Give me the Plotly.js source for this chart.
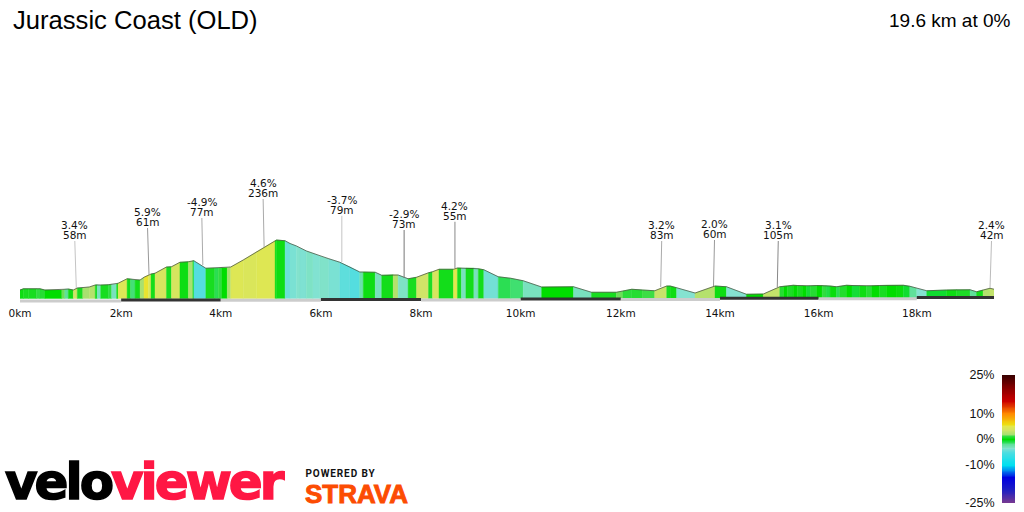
<!DOCTYPE html>
<html><head><meta charset="utf-8">
<script src="https://cdn.plot.ly/plotly-3.0.1.min.js"></script>
<style>
html,body{margin:0;padding:0;background:#fff}
#c{width:1024px;height:512px}
.annotation[data-index="23"] text{stroke:#000;stroke-width:1.5px;letter-spacing:-3px}
.annotation[data-index="24"] text{stroke:#ff1744;stroke-width:1.5px;letter-spacing:-3px}
.annotation[data-index="25"] text{letter-spacing:.9px}
.annotation[data-index="26"] text{stroke:#fc4c02;stroke-width:.9px}
</style></head><body><div id="c"></div>
<script>
const chartTitle = "Jurassic Coast (OLD)";
const summary = "19.6 km at 0%";
const kmPts = [0,.07,.17,.33,.40,.50,.84,.90,.97,1.07,1.15,1.26,1.39,1.51,1.55,1.62,1.77,1.84,1.94,1.97,2.15,2.22,2.31,2.41,2.49,2.58,2.63,2.71,2.94,3.04,3.21,3.38,3.47,3.49,3.73,3.91,3.98,4.05,4.16,4.23,4.48,4.75,5.12,5.15,5.32,5.42,5.55,5.62,5.75,5.88,6.02,6.2,6.42,6.62,6.82,6.89,7.13,7.26,7.49,7.59,7.79,7.96,8.2,8.28,8.41,8.70,8.78,8.86,8.95,9.11,9.2,9.31,9.6,9.85,10.1,10.47,11.11,11.47,11.97,12.1,12.28,12.5,12.74,12.98,13.05,13.18,13.55,13.95,14.18,14.58,14.92,15.25,15.33,15.4,15.52,15.6,15.7,15.79,15.86,15.99,16.1,16.18,16.26,16.39,16.45,16.59,16.7,16.85,16.99,17.1,17.25,17.39,17.6,17.73,17.86,18,18.2,18.6,18.8,19.07,19.2,19.33,19.47,19.55];
const elevPts = [3.2,3.7,3.7,3.7,3.7,3.2,3.2,3.5,3.6,3.2,4.0,4.1,4.4,5.2,5.3,5.2,5.3,5.5,5.6,5.9,7.7,7.6,7.2,7.2,8.3,9.2,9.6,9.9,12.4,12.5,14.3,14.5,14.9,14.9,11.9,12,12,12.1,12.1,12.4,15.2,18.5,22.9,23.2,22.9,21.8,20.8,20,18.8,17.9,16.8,15.7,14.3,12.5,10.4,10.4,10.3,9.1,9.3,9.2,7.7,8.3,10.1,10.5,11.5,11.5,12,12,12,12,11.7,11.3,8.5,7.9,6.9,4.4,4.5,2.3,2.3,2.8,3.5,3.2,2.9,4.8,4.8,4.1,2.0,4.8,4.5,1.5,1.6,4.5,4.7,4.8,5.1,5,4.9,4.8,4.9,5,5,4.9,4.8,4.5,4.7,5.1,5,4.9,4.8,4.9,5,5.1,5.1,5.1,4.7,3.9,2.9,3.2,3.3,3.3,2.5,3.2,3.9,3.5];
const gradPts = [.3,.5,.5,1,.8,0,1.5,-2,.3,3.5,.5,2,2.5,.4,-3,.5,1,-3,.3,4.5,.4,-1.5,.4,2,5.5,4,.4,4,.5,4,.3,2,.3,-4.9,.5,-1,1,0,2,4.6,4.3,4.7,.3,.3,-4.2,-3.8,-3.4,-3.7,-3.2,-3.6,-3.3,-3.8,-4.6,-4.9,-2.5,.3,-3,.4,2.5,-3.2,.5,3.5,.6,4,.4,5,.5,-3,.4,-3,.4,-4,-1,-1.4,-3,0,-3,.5,1.5,.9,.8,1.1,3.2,.5,.3,-3.5,2.5,.3,-3.5,0,3,.8,0,.6,0,.5,0,-.6,.8,0,1,-.8,.2,-1,.7,0,-.6,.3,.8,0,.5,0,.2,-.5,-2,-3.5,-.5,.3,.6,-2,.4,2.4,3,0];
const tickPos = [0,2.03,4.03,6.04,8.05,10.05,12.06,14.05,16.03,18.0];
const tickLabels = ["0km","2km","4km","6km","8km","10km","12km","14km","16km","18km"];
const bandKm = [0,2.03,4.03,6.04,8.05,10.05,12.06,14.05,16.03,18.0,19.55];
const bandElev = [-1.2,-.8,-.9,-.6,-.8,-.4,-.6,-.1,-.3,.2,.2];
const climbGrade = ["3.4%","5.9%","-4.9%","4.6%","-3.7%","-2.9%","4.2%","3.2%","2.0%","3.1%","2.4%"];
const climbLength = ["58m","61m","77m","236m","79m","73m","55m","83m","60m","105m","42m"];
const labelKm = [1.10,2.56,3.65,4.88,6.46,7.71,8.73,12.88,13.94,15.22,19.50];
const leaderKmBase = [1.13,2.59,3.67,4.90,6.46,7.71,8.73,12.86,13.92,15.20,19.47];
const leaderTop = [22.8,28,32,39.6,32.9,27.2,30.5,22.8,23.2,22.8,22.8];
const leaderBase = [4,9.2,13.2,20.4,14.4,8,12,4.4,4.8,4.4,4];
const leaderColor = ["#c4c4c4","#999","#aaa","#aaa","#c4c4c4","#777","#888","#aaa","#999","#888","#bbb"];
const gradeStops = [-25,-20,-15,-12,-10,-5,-3.5,-2,-.5,0,1,2,3.5,5,6,10,15,20,25];
const gradeColors = ["#7a3a90","#2020c0","#0000e0","#0090f0","#00e0f0","#50dde0","#85e2d0","#60e09a","#10dd30","#00dd00","#30dd40","#a8e070","#d0e468","#e2e84e","#eedd10","#ff8800","#cc0000","#880000","#3a0000"];
const legendLevels = [-25,-24,-23,-22,-21,-20,-19,-18,-17,-16,-15,-14,-13,-12,-11,-10,-9,-8,-7,-6,-5,-4,-3,-2,-1,0,1,2,3,4,5,6,7,8,9,10,11,12,13,14,15,16,17,18,19,20,21,22,23,24,25];
const legendTicks = [-25,-10,0,10,25];
const legendTickText = ["-25%","-10%","0%","10%","25%"];

function hex(c){return [1,3,5].map(i=>parseInt(c.substr(i,2),16));}
function colorFor(g){
  let i=0; while(i<gradeStops.length-2 && g>gradeStops[i+1]) i++;
  const t=Math.max(0,Math.min(1,(g-gradeStops[i])/(gradeStops[i+1]-gradeStops[i])));
  const a=hex(gradeColors[i]),b=hex(gradeColors[i+1]);
  return 'rgb('+a.map((v,k)=>Math.round(v+(b[k]-v)*t)).join(',')+')';
}
const floorElev = -.2, traces = [];
for(let i=0;i<kmPts.length-1;i++){
  const col=colorFor(gradPts[i]);
  traces.push({type:'scatter',mode:'lines',x:[kmPts[i],kmPts[i],kmPts[i+1],kmPts[i+1],kmPts[i]],
    y:[floorElev,elevPts[i],elevPts[i+1],floorElev,floorElev],fill:'toself',fillcolor:col,
    line:{color:col,width:.4},hoverinfo:'skip',showlegend:false});
}
traces.push({type:'scatter',mode:'lines',x:kmPts,y:elevPts,line:{color:'rgba(70,80,60,.75)',width:1},hoverinfo:'skip',showlegend:false});
for(let i=0;i<bandKm.length-1;i++){
  traces.push({type:'scatter',mode:'lines',x:[bandKm[i],bandKm[i+1]],y:[bandElev[i],bandElev[i]],
    line:{color:i%2?'#333333':'#cccccc',width:3},hoverinfo:'skip',showlegend:false});
}
labelKm.forEach((k,i)=>traces.push({type:'scatter',mode:'lines',x:[k,leaderKmBase[i]],y:[leaderTop[i],leaderBase[i]],
  line:{color:leaderColor[i],width:1},hoverinfo:'skip',showlegend:false,cliponaxis:false}));
traces.push({type:'heatmap',xaxis:'x2',yaxis:'y2',x:[0,1],y:legendLevels,z:legendLevels.map(v=>[v,v]),zmin:-25,zmax:25,
  colorscale:gradeStops.map((g,i)=>[(g+25)/50,gradeColors[i]]),showscale:false,hoverinfo:'skip',zsmooth:'best'});

const ann=[];
const labelFont={family:'DejaVu Sans',size:10.5,color:'#111'};
labelKm.forEach((k,i)=>{
  ann.push({xref:'x',yref:'y',x:k,y:leaderTop[i],text:climbGrade[i],showarrow:false,yshift:15.7,font:labelFont,yanchor:'middle',borderpad:0});
  ann.push({xref:'x',yref:'y',x:k,y:leaderTop[i],text:climbLength[i],showarrow:false,yshift:5.7,font:labelFont,yanchor:'middle',borderpad:0});
});
const px=(x,y)=>({xref:'paper',yref:'paper',x:x/1024,y:1-y/512,showarrow:false,borderpad:0,borderwidth:0});
ann.push(Object.assign(px(1011,20),{text:summary,xanchor:'right',yanchor:'middle',font:{family:'Liberation Sans',size:19,color:'#000'}}));
ann.push(Object.assign(px(-1,482),{text:'<b>velo</b>',xanchor:'left',yanchor:'middle',font:{family:'DejaVu Sans',size:50,color:'#000'}}));
ann.push(Object.assign(px(102,482),{text:'<b>viewer</b>',xanchor:'left',yanchor:'middle',font:{family:'DejaVu Sans',size:50,color:'#ff1744'}}));
ann.push(Object.assign(px(310,473),{text:'<b>POWERED BY</b>',xanchor:'left',yanchor:'middle',font:{family:'Roboto',size:10,color:'#111'}}));
ann.push(Object.assign(px(305,494),{text:'<b>STRAVA</b>',xanchor:'left',yanchor:'middle',font:{family:'Liberation Sans',size:26,color:'#fc4c02'}}));

Plotly.newPlot('c',traces,{
  width:1024,height:512,margin:{l:0,r:0,t:0,b:0},paper_bgcolor:'#fff',plot_bgcolor:'rgba(0,0,0,0)',showlegend:false,
  title:{text:chartTitle,x:13/1024,xanchor:'left',y:1-20/512,yanchor:'middle',font:{family:'Liberation Sans',size:25.6,color:'#000'}},
  xaxis:{domain:[20/1024,994/1024],range:[0,19.55],tickvals:tickPos,ticktext:tickLabels,showgrid:false,zeroline:false,showline:false,
    ticks:'',tickangle:0,tickfont:{family:'DejaVu Sans',size:10.5,color:'#111'},fixedrange:true},
  yaxis:{domain:[(512-305)/512,(512-170)/512],range:[-2.8,51.2],visible:false,fixedrange:true},
  xaxis2:{domain:[1002/1024,1015/1024],range:[0,1],visible:false,anchor:'y2',fixedrange:true},
  yaxis2:{domain:[(512-503)/512,(512-375)/512],range:[-25,25],anchor:'x2',tickvals:legendTicks,ticktext:legendTickText,
    showgrid:false,zeroline:false,showline:false,ticks:'outside',ticklen:4,tickcolor:'rgba(0,0,0,0)',
    tickfont:{family:'Liberation Sans',size:12.5,color:'#111'},fixedrange:true},
  annotations:ann
},{staticPlot:true,displayModeBar:false});
</script></body></html>
